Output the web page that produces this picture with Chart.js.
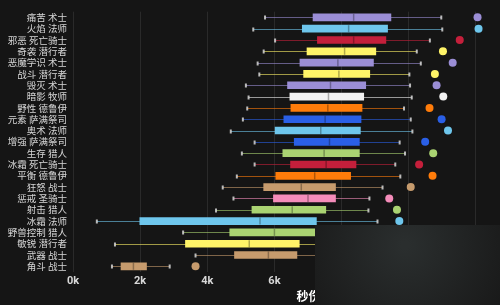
<!DOCTYPE html>
<html>
<head>
<meta charset="utf-8">
<script src="https://cdn.jsdelivr.net/npm/chart.js@4/dist/chart.umd.min.js"></script>
<style>
  html, body { margin: 0; padding: 0; background: #151515; }
  #wrap { width: 500px; height: 305px; }
</style>
</head>
<body>
<div id="wrap"><canvas id="dpsChart"></canvas></div>
<script>
// === Datos (秒伤) ===
const specs = [
  "痛苦 术士", "火焰 法师", "邪恶 死亡骑士", "奇袭 潜行者", "恶魔学识 术士",
  "战斗 潜行者", "毁灭 术士", "暗影 牧师", "野性 德鲁伊", "元素 萨满祭司",
  "奥术 法师", "增强 萨满祭司", "生存 猎人", "冰霜 死亡骑士", "平衡 德鲁伊",
  "狂怒 战士", "惩戒 圣骑士", "射击 猎人", "冰霜 法师", "野兽控制 猎人",
  "敏锐 潜行者", "武器 战士", "角斗 战士",
];

const lowWhisker = [5720, 5370, 6020, 5680, 5500, 5550, 5150, 5230, 5190, 5060, 4700, 5410, 5030, 5410, 4880, 4460, 4780, 4260, 710, 3280, 1250, 3650, 1160];
const q1 = [7150, 6830, 7280, 6970, 6760, 6870, 6390, 6460, 6490, 6280, 6020, 6590, 6250, 6480, 6040, 5680, 5970, 5330, 1990, 4670, 3350, 4810, 1430];
const medians = [8360, 8210, 8360, 8090, 7890, 7920, 7670, 7610, 7590, 7510, 7380, 7640, 7480, 7540, 7200, 6800, 7000, 6530, 5570, 6000, 5250, 5820, 1800];
const q3 = [9470, 9370, 9320, 9020, 8950, 8840, 8720, 8660, 8610, 8580, 8560, 8530, 8530, 8430, 8270, 7820, 7820, 7530, 7250, 7500, 6740, 6670, 2190];
const highWhisker = [10970, 11000, 10630, 10240, 10360, 10020, 10040, 10090, 9860, 10060, 10110, 9730, 9890, 9600, 9750, 9220, 8830, 8800, 9070, 9300, 8900, 8500, 2880];
const outliers = [12050, 12080, 11520, 11020, 11310, 10780, 10830, 11030, 10620, 10980, 11170, 10490, 10730, 10310, 10710, 10060, 9420, 9650, 9720, 10100, 9800, 9300, 3650];

const xTickValues = [0, 2000, 4000, 6000, 8000, 10000, 12000];

const classColors = {
  warlock: "#9b8ed6",
  mage: "#6ec6ec",
  dk: "#c41f3b",
  rogue: "#fff468",
  priest: "#f2f2f2",
  druid: "#ff7c0a",
  shaman: "#2a5fe6",
  hunter: "#aad372",
  warrior: "#c69b6d",
  paladin: "#f48cba",
};

const specClasses = [
  "warlock", "mage", "dk", "rogue", "warlock", "rogue", "warlock", "priest",
  "druid", "shaman", "mage", "shaman", "hunter", "dk", "druid", "warrior",
  "paladin", "hunter", "mage", "hunter", "rogue", "warrior", "warrior",
];
const specColors = specClasses.map((c) => classColors[c]);

function withAlpha(hex, a) {
  const n = parseInt(hex.slice(1), 16);
  return `rgba(${(n >> 16) & 255},${(n >> 8) & 255},${n & 255},${a})`;
}

// === Bigotes y medianas ===
const boxPlugin = {
  id: "boxExtras",
  beforeDatasetsDraw(chart) {
    const { ctx, scales: { x, y } } = chart;
    ctx.save();
    specs.forEach((s, i) => {
      const cy = Math.round(y.getPixelForValue(i)) + 0.5;
      const x0 = x.getPixelForValue(lowWhisker[i]);
      const x1 = x.getPixelForValue(highWhisker[i]);
      ctx.strokeStyle = withAlpha(specColors[i], 0.6);
      ctx.lineWidth = 1;
      ctx.beginPath();
      ctx.moveTo(x0, cy);
      ctx.lineTo(x1, cy);
      ctx.stroke();
      ctx.fillStyle = "rgba(215,215,215,0.85)";
      ctx.fillRect(x0 - 1, cy - 2, 2, 4);
      ctx.fillRect(x1 - 1, cy - 2, 2, 4);
    });
    ctx.restore();
  },
  afterDatasetsDraw(chart) {
    const { ctx, scales: { x, y } } = chart;
    ctx.save();
    ctx.strokeStyle = "rgba(0,0,0,0.3)";
    ctx.lineWidth = 1.5;
    specs.forEach((s, i) => {
      const cy = y.getPixelForValue(i);
      const mx = x.getPixelForValue(medians[i]);
      ctx.beginPath();
      ctx.moveTo(mx, cy - 3.5);
      ctx.lineTo(mx, cy + 3.5);
      ctx.stroke();
    });
    ctx.restore();
  },
};

const bgPlugin = {
  id: "bg",
  beforeDraw(chart) {
    const { ctx, width, height } = chart;
    ctx.save();
    ctx.fillStyle = "#151515";
    ctx.fillRect(0, 0, width, height);
    ctx.restore();
  },
  afterDraw(chart) {
    // sombra oscura de la esquina inferior derecha
    const { ctx } = chart;
    ctx.save();
    const g = ctx.createRadialGradient(405, 245, 4, 405, 245, 120);
    g.addColorStop(0, "#2a2e2e");
    g.addColorStop(1, "#181818");
    ctx.fillStyle = g;
    ctx.fillRect(315, 225, 185, 80);
    ctx.restore();
  },
};

const ctx = document.getElementById("dpsChart").getContext("2d");

new Chart(ctx, {
  type: "bar",
  data: {
    labels: specs,
    datasets: [
      {
        data: specs.map((s, i) => [q1[i], q3[i]]),
        backgroundColor: specColors,
        borderWidth: 0,
        barThickness: 7,
      },
      {
        type: "line",
        data: outliers,
        showLine: false,
        pointRadius: 4,
        pointHoverRadius: 4,
        pointBorderWidth: 0,
        pointBackgroundColor: specColors,
      },
    ],
  },
  options: {
    indexAxis: "y",
    responsive: true,
    maintainAspectRatio: false,
    animation: false,
    layout: { padding: { top: 11, right: 1, left: 0, bottom: 0 } },
    plugins: {
      legend: { display: false },
      tooltip: { enabled: false },
    },
    scales: {
      x: {
        type: "linear",
        min: 0,
        max: 12600,
        afterFit: (s) => { s.height = 33; },
        afterBuildTicks: (s) => { s.ticks = xTickValues.map((v) => ({ value: v })); },
        ticks: {
          padding: 3,
          color: "#d8d8d8",
          font: { family: "Roboto, 'Noto Sans'", size: 11, weight: "bold" },
          callback: (v) => v / 1000 + "k",
        },
        grid: { color: "#2a2a2a", drawTicks: false },
        border: { display: false },
        title: {
          display: true,
          text: "\u3000\u3000\u3000\u3000秒伤",
          color: "#ffffff",
          padding: { top: 0, bottom: 1 },
          font: { family: "'Noto Sans CJK SC'", size: 12, weight: "bold" },
        },
      },
      y: {
        afterFit: (s) => { s.width = 73; },
        ticks: {
          padding: 6,
          autoSkip: false,
          color: "#d6d6d6",
          font: { family: "'Noto Sans CJK SC'", size: 9.5 },
        },
        grid: { display: false, drawTicks: false },
        border: { display: false },
      },
    },
  },
  plugins: [bgPlugin, boxPlugin],
});
</script>
</body>
</html>
